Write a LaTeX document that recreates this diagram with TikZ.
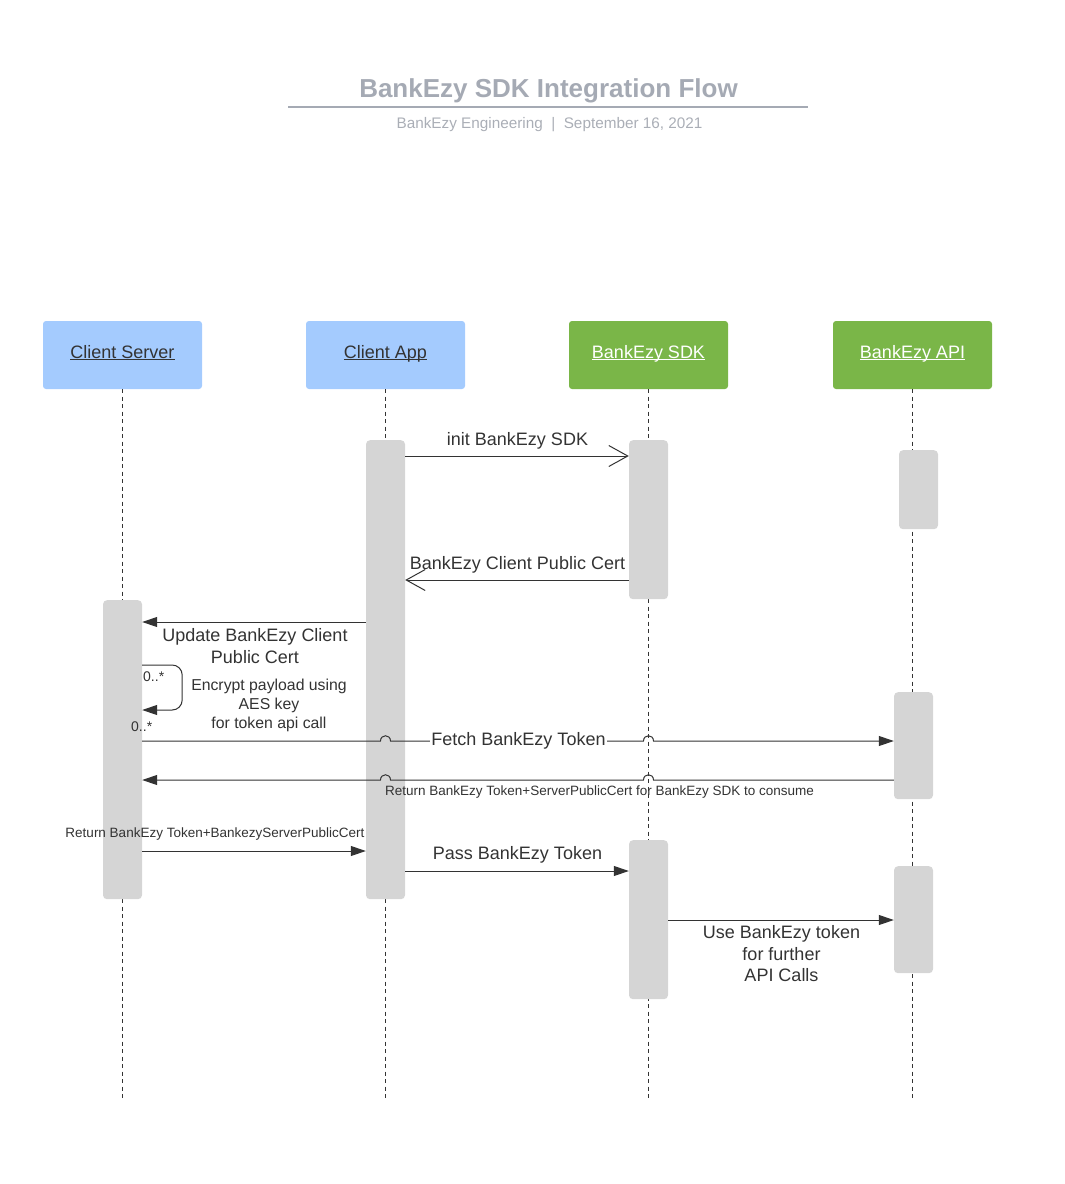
\documentclass[tikz,border=0pt]{standalone}
\usepackage{fontspec}
\setmainfont{Liberation Sans}
\usetikzlibrary{arrows.meta,calc}
\definecolor{titlegray}{RGB}{165,170,180}
\definecolor{subgray}{RGB}{170,174,182}
\definecolor{headblue}{RGB}{164,203,254}
\definecolor{headgreen}{RGB}{122,182,72}
\definecolor{actgray}{RGB}{213,213,213}
\definecolor{ink}{RGB}{51,51,51}
\newcommand\hdlabel[1]{\underline{\raisebox{0pt}[\height][0pt]{#1}}}
\begin{document}
\begin{tikzpicture}[x=1pt,y=-1pt,
    head/.style={rounded corners=3pt,minimum width=159pt,minimum height=68pt,inner sep=0pt,
      text height=13pt,text depth=7pt,font=\fontsize{18}{21}\selectfont},
    act/.style={fill=actgray,rounded corners=4pt,minimum width=39pt,inner sep=0pt,anchor=north},
    life/.style={draw=ink,line width=0.9pt,dash pattern=on 4pt off 3.5pt},
    msg/.style={draw=ink,line width=1pt,-{Triangle[length=15pt,width=10pt]}},
    reply/.style={draw=ink,line width=1pt,-{Straight Barb[length=19pt,width=21pt]}},
    lbl/.style={text=ink,inner sep=0pt,font=\fontsize{18}{21.7}\selectfont},
    small/.style={text=ink,inner sep=0pt,font=\fontsize{13.5}{16}\selectfont}]
\useasboundingbox (0,0) rectangle (1065,1184);
% title
\node[text=titlegray,anchor=base,font=\fontsize{26}{30}\selectfont\bfseries] (title) at (548.5,97.5) {BankEzy SDK Integration Flow};
\draw[titlegray,line width=2pt] (288,107) -- (808,107);
\node[text=subgray,anchor=base,font=\fontsize{15.3}{17}\selectfont] (subtitle) at (549.5,128.5) {BankEzy Engineering\ \ |\ \ September 16, 2021};
% participants
\node[head,fill=headblue,text=ink] (cs) at (122.5,355) {\hdlabel{Client Server}};
\node[head,fill=headblue,text=ink] (app) at (385.5,355) {\hdlabel{Client App}};
\node[head,fill=headgreen,text=white] (sdk) at (648.5,355) {\hdlabel{BankEzy SDK}};
\node[head,fill=headgreen,text=white] (api) at (912.5,355) {\hdlabel{BankEzy API}};
\coordinate (lifeend) at (0,1100);
\foreach \p in {cs,app,sdk,api}
  \draw[life] (\p.south) -- (\p.south |- lifeend);
% activations
\node[act,minimum height=299pt] (csact) at (122.5,600) {};
\node[act,minimum height=459pt] (appact) at (385.5,440) {};
\node[act,minimum height=159pt] (sdkact1) at (648.5,440) {};
\node[act,minimum height=79pt] (apiact1) at (918.5,450) {};
\node[act,minimum height=107pt] (apiact2) at (913.5,692) {};
\node[act,minimum height=159pt] (sdkact2) at (648.5,840) {};
\node[act,minimum height=107pt] (apiact3) at (913.5,866) {};
% message rows
\coordinate (r1) at (0,456);
\coordinate (r2) at (0,580);
\coordinate (r3) at (0,622);
\coordinate (r4) at (0,665);
\coordinate (r5) at (0,710);
\coordinate (r6) at (0,741);
\coordinate (r7) at (0,780);
\coordinate (r8) at (0,851);
\coordinate (r9) at (0,871);
\coordinate (r10) at (0,920);
% messages
\draw[reply] (appact.east |- r1) -- (sdkact1.west |- r1);
\draw[reply] (sdkact1.west |- r2) -- (appact.east |- r2);
\draw[msg] (appact.west |- r3) -- (csact.east |- r3);
\draw[msg,rounded corners=10pt] (csact.east |- r4) -- ++(40,0) -- ++(0,45) -- (csact.east |- r5);
\draw[msg] (csact.east |- r6) -- ($(app.south |- r6)+(-5,0)$) .. controls +(0,-7) and +(0,-7) .. ($(app.south |- r6)+(5,0)$)
  -- ($(sdk.south |- r6)+(-5,0)$) .. controls +(0,-7) and +(0,-7) .. ($(sdk.south |- r6)+(5,0)$) -- (apiact2.west |- r6);
\draw[msg] (apiact2.west |- r7) -- ($(sdk.south |- r7)+(5,0)$) .. controls +(0,-7) and +(0,-7) .. ($(sdk.south |- r7)+(-5,0)$)
  -- ($(app.south |- r7)+(5,0)$) .. controls +(0,-7) and +(0,-7) .. ($(app.south |- r7)+(-5,0)$) -- (csact.east |- r7);
\draw[msg] (csact.east |- r8) -- (appact.west |- r8);
\draw[msg] (appact.east |- r9) -- (sdkact2.west |- r9);
\draw[msg] (sdkact2.east |- r10) -- (apiact3.west |- r10);
% labels
\node[lbl,anchor=base] (initlbl) at (517.5,445) {init BankEzy SDK};
\node[lbl,anchor=base] (certlbl) at (517.5,569) {BankEzy Client Public Cert};
\node[lbl,align=center] (updlbl) at (255,646.4) {Update BankEzy Client\\Public Cert};
\node[text=ink,inner sep=0pt,align=center,font=\fontsize{15.8}{19}\selectfont] (enclbl) at (269,705.5) {Encrypt payload using\\AES key\\for token api call};
\node[text=ink,inner sep=0pt,anchor=base west,font=\fontsize{14}{16}\selectfont] (multa) at (143,681.7) {0..*};
\node[text=ink,inner sep=0pt,anchor=base west,font=\fontsize{14}{16}\selectfont] (multb) at (131,731.7) {0..*};
\node[lbl,anchor=base,fill=white,inner xsep=1pt] (fetchlbl) at (518.5,745) {Fetch BankEzy Token};
\node[small,anchor=base] (retlbl) at (599.5,795) {Return BankEzy Token+ServerPublicCert for BankEzy SDK to consume};
\node[small,anchor=base] (retcslbl) at (215,837.5) {Return BankEzy Token+BankezyServerPublicCert};
\node[lbl,anchor=base] (passlbl) at (517.5,859.5) {Pass BankEzy Token};
\node[lbl,align=center] (uselbl) at (781.5,953.7) {Use BankEzy token\\for further\\API Calls};
\end{tikzpicture}
\end{document}
